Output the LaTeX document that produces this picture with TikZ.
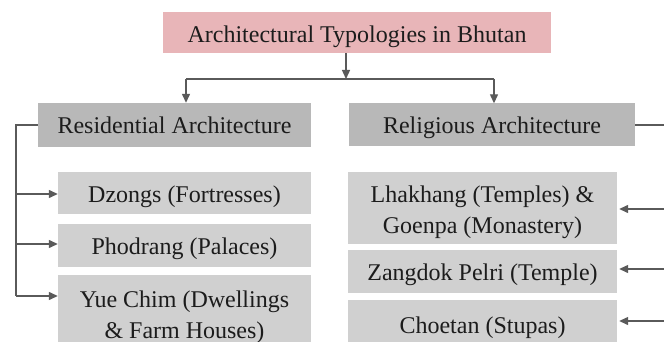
\documentclass[tikz,border=0pt]{standalone}
\usepackage{fontspec}
\setmainfont{Liberation Serif}
\usetikzlibrary{arrows.meta}
\definecolor{pinkbox}{HTML}{E8B5B8}
\definecolor{headgray}{HTML}{B8B8B8}
\definecolor{childgray}{HTML}{D0D0D0}
\definecolor{linegray}{HTML}{5A5A5A}
\definecolor{txt}{HTML}{1C1C1C}
\begin{document}
\begin{tikzpicture}[x=1pt,y=-1pt,
  box/.style={rectangle, inner sep=0pt, align=center, text=txt,
    font=\fontsize{24}{30.5}\selectfont},
  one/.style={text height=19pt, text depth=1pt},
  two/.style={text height=51pt, text depth=0.5pt},
  titlebox/.style={box, text height=21pt, text depth=0pt, fill=pinkbox},
  headbox/.style={box, one, fill=headgray},
  childbox/.style={box, fill=childgray},
  conn/.style={draw=linegray, line width=1.3pt},
  arr/.style={conn, -{Triangle[length=9pt,width=8pt]}}]
\useasboundingbox (0,0) rectangle (664,342);
\clip (0,0) rectangle (664,342);
\fill[white] (0,0) rectangle (664,342);

\node[titlebox, minimum width=388pt, minimum height=41pt] (top) at (357,32.5) {Architectural Typologies in Bhutan};
\node[headbox, minimum width=273pt, minimum height=44pt] (res) at (174.5,125) {Residential Architecture};
\node[headbox, minimum width=286pt, minimum height=43pt] (rel) at (492,125) {Religious Architecture};

\node[childbox, one, minimum width=253pt, minimum height=42pt] (dz) at (184.5,193) {Dzongs (Fortresses)};
\node[childbox, one, minimum width=253pt, minimum height=43pt] (ph) at (184.5,245.5) {Phodrang (Palaces)};
\node[childbox, two, minimum width=253pt, minimum height=76pt] (yc) at (184.5,313) {Yue Chim (Dwellings\\\& Farm Houses)};

\node[childbox, two, minimum width=269pt, minimum height=72pt] (lh) at (482.5,208) {Lhakhang (Temples) \&\\Goenpa (Monastery)};
\node[childbox, one, minimum width=269pt, minimum height=43pt] (zp) at (482.5,271.5) {Zangdok Pelri (Temple)};
\node[childbox, one, minimum width=269pt, minimum height=48pt] (ch) at (482.5,324) {Choetan (Stupas)};

% top distribution
\coordinate (hub) at (346,79);
\coordinate (hl) at (186,79);
\coordinate (hr) at (494,79);
\draw[arr] (top.south -| hub) -- (hub);
\draw[conn] (hl) -- (hr);
\draw[arr] (hl) -- (hl |- res.north);
\draw[arr] (hr) -- (hr |- rel.north);

% left bus
\coordinate (lt) at (16,125);
\coordinate (l1) at (16,194);
\coordinate (l2) at (16,244);
\coordinate (l3) at (16,296);
\draw[conn] (res.west) -- (lt) -- (l3);
\draw[arr] (l1) -- (l1 -| dz.west);
\draw[arr] (l2) -- (l2 -| ph.west);
\draw[arr] (l3) -- (l3 -| yc.west);

% right bus
\coordinate (rt) at (670,125);
\coordinate (r1) at (670,209);
\coordinate (r2) at (670,269);
\coordinate (r3) at (670,321);
\draw[conn] (rel.east) -- (rt) -- (r3);
\draw[arr] (r1) -- ([xshift=2pt]r1 -| lh.east);
\draw[arr] (r2) -- ([xshift=2pt]r2 -| zp.east);
\draw[arr] (r3) -- ([xshift=2pt]r3 -| ch.east);
\end{tikzpicture}
\end{document}
